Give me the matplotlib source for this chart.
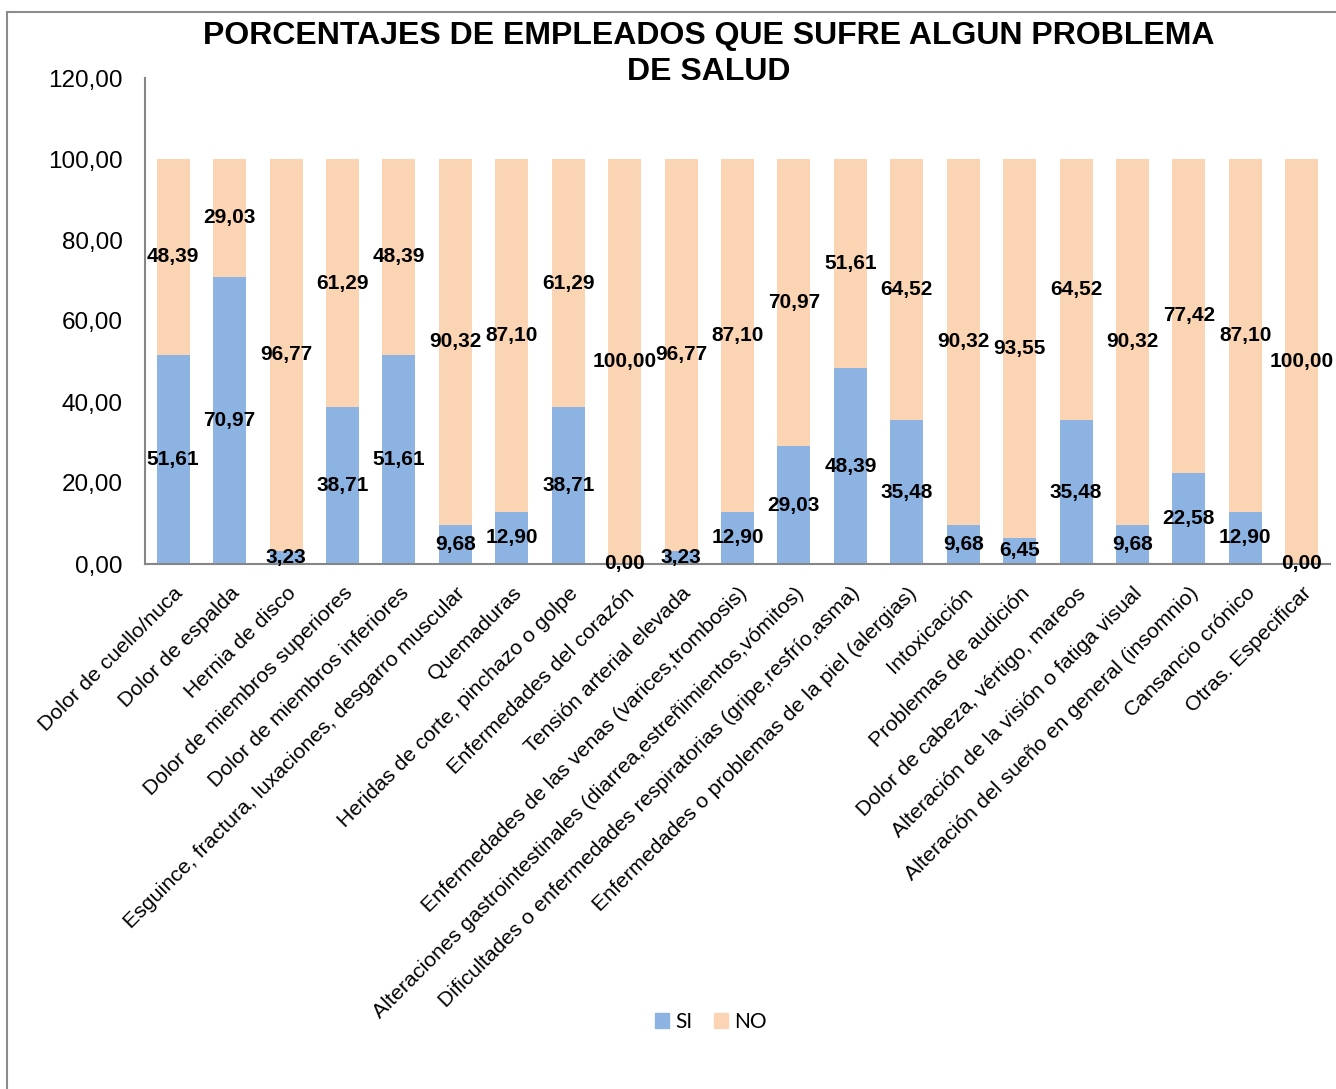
import matplotlib
matplotlib.use("Agg")
import matplotlib.pyplot as plt
from matplotlib.patches import Rectangle, Patch
from matplotlib.ticker import FuncFormatter

categories = [
    "Dolor de cuello/nuca", "Dolor de espalda", "Hernia de disco",
    "Dolor de miembros superiores", "Dolor de miembros inferiores",
    "Esguince, fractura, luxaciones, desgarro muscular", "Quemaduras",
    "Heridas de corte, pinchazo o golpe", "Enfermedades del corazón",
    "Tensión arterial elevada",
    "Enfermedades de las venas (varices,trombosis)",
    "Alteraciones gastrointestinales (diarrea,estreñimientos,vómitos)",
    "Dificultades o enfermedades respiratorias (gripe,resfrío,asma)",
    "Enfermedades o problemas de la piel (alergias)", "Intoxicación",
    "Problemas de audición", "Dolor de cabeza, vértigo, mareos",
    "Alteración de la visión o fatiga visual",
    "Alteración del sueño en general (insomnio)", "Cansancio crónico",
    "Otras. Especificar",
]
si = [51.61, 70.97, 3.23, 38.71, 51.61, 9.68, 12.90, 38.71, 0.00, 3.23,
      12.90, 29.03, 48.39, 35.48, 9.68, 6.45, 35.48, 9.68, 22.58, 12.90, 0.00]
no = [48.39, 29.03, 96.77, 61.29, 48.39, 90.32, 87.10, 61.29, 100.00, 96.77,
      87.10, 70.97, 51.61, 64.52, 90.32, 93.55, 64.52, 90.32, 77.42, 87.10, 100.00]
series_names = ["SI", "NO"]
colors = ["#8DB3E2", "#FBD4B4"]
title = "PORCENTAJES DE EMPLEADOS QUE SUFRE ALGUN PROBLEMA\nDE SALUD"

W, H = 1336, 1089
fig = plt.figure(figsize=(W / 100, H / 100), dpi=100)
fig.patch.set_facecolor("white")

# outer chart frame
fig.patches.append(Rectangle((7 / W, -0.01), 1.1, 1 - 12 / H + 0.01,
                             transform=fig.transFigure, fill=False,
                             edgecolor="#8C8C8C", linewidth=1.5))

ax = fig.add_axes([145 / W, 1 - 564 / H, (1330 - 145) / W, (564 - 78) / H])
x = list(range(len(categories)))
bw = 0.585
ax.bar(x, si, bw, color=colors[0], label=series_names[0])
ax.bar(x, no, bw, bottom=si, color=colors[1], label=series_names[1])

lblfont = dict(family=["Liberation Sans"], fontweight="bold", fontsize=15,
               color="black")
for i in x:
    ax.text(i, si[i] / 2, f"{si[i]:.2f}".replace(".", ","),
            ha="center", va="center", **lblfont)
    ax.text(i, si[i] + no[i] / 2, f"{no[i]:.2f}".replace(".", ","),
            ha="center", va="center", **lblfont)

ax.set_xlim(-0.5, len(categories) - 0.5)
ax.set_ylim(0, 120)
ax.set_yticks(range(0, 121, 20))
ax.yaxis.set_major_formatter(FuncFormatter(lambda v, p: f"{v:.2f}".replace(".", ",")))
for s in ["top", "right"]:
    ax.spines[s].set_visible(False)
for s in ["left", "bottom"]:
    ax.spines[s].set_color("#868686")
    ax.spines[s].set_linewidth(1.5)
ax.tick_params(axis="both", length=0)
ax.tick_params(axis="y", pad=16)
for t in ax.get_yticklabels():
    t.set_fontfamily(["Liberation Sans"])
    t.set_fontsize(17.5)
ax.set_xticks(x)
ax.set_xticklabels(categories, rotation=45, ha="right", va="top",
                   rotation_mode="anchor", fontsize=15.4,
                   fontfamily="Liberation Sans")
ax.tick_params(axis="x", pad=14)

for k, line in enumerate(title.split("\n")):
    fig.text(709 / W, 1 - (36 + 36 * k) / H, line, ha="center", va="center",
             fontsize=23, fontweight="bold", family="Liberation Sans")

handles = [Patch(color=colors[0]), Patch(color=colors[1])]
fig.legend(handles, series_names, loc="center", bbox_to_anchor=(711 / W, 1 - 1022 / H),
           ncol=2, frameon=False, handlelength=0.7, handleheight=0.7,
           handletextpad=0.3, columnspacing=1.0,
           prop={"family": "Lato", "size": 15})

fig.savefig("out.png", dpi=100)
